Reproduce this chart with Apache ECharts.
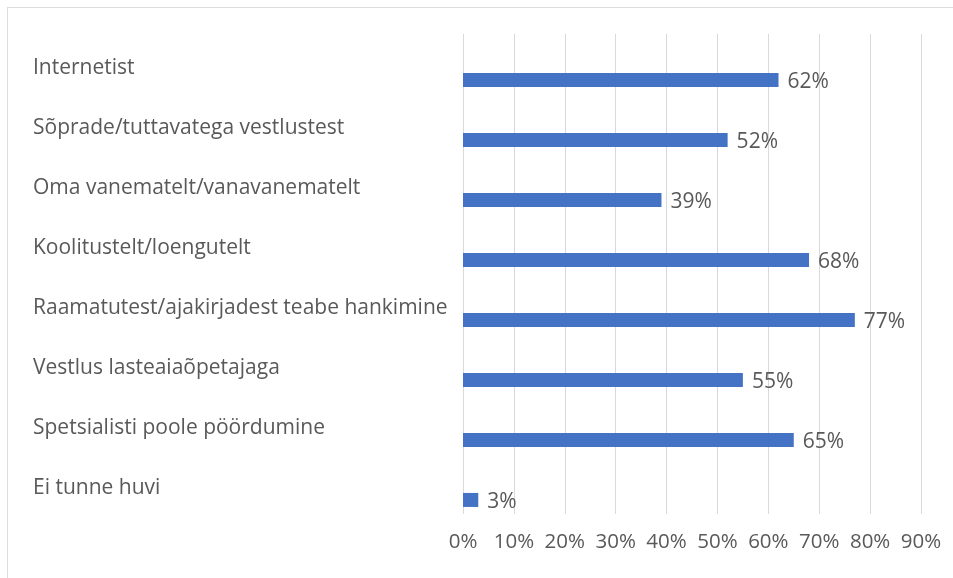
<!DOCTYPE html>
<html>
<head>
<meta charset="utf-8">
<script src="https://cdn.jsdelivr.net/npm/echarts@6/dist/echarts.min.js"></script>
<style>
html,body{margin:0;padding:0;background:#fff;}
#frame{position:absolute;left:7px;top:7px;width:960px;height:590px;border:1px solid #dcdcdc;box-sizing:border-box;}
#chart{position:absolute;left:0;top:0;width:953px;height:578px;}
</style>
</head>
<body>
<div id="frame"></div>
<div id="chart"></div>
<script>
const categories = [
  "Internetist",
  "Sõprade/tuttavatega vestlustest",
  "Oma vanematelt/vanavanematelt",
  "Koolitustelt/loengutelt",
  "Raamatutest/ajakirjadest teabe hankimine",
  "Vestlus lasteaiaõpetajaga",
  "Spetsialisti poole pöördumine",
  "Ei tunne huvi"
];
const values = [62, 52, 39, 68, 77, 55, 65, 3];
const xTicks = [0, 10, 20, 30, 40, 50, 60, 70, 80, 90];

const textColor = '#595959';
const fontFamily = '"Open Sans", "Noto Sans", sans-serif';
const chart = echarts.init(document.getElementById('chart'), null, {renderer: 'canvas'});
chart.setOption({
  animation: false,
  grid: {left: 463, right: 32, top: 34, bottom: 64, containLabel: false},
  xAxis: {
    type: 'value', min: xTicks[0], max: xTicks[xTicks.length - 1], interval: 10,
    axisLine: {show: false}, axisTick: {show: false},
    splitLine: {lineStyle: {color: '#d9d9d9', width: 1}},
    axisLabel: {formatter: '{value}%', color: textColor, fontSize: 20.5, fontFamily: fontFamily, margin: 18}
  },
  yAxis: {
    type: 'category', data: categories, inverse: true,
    axisLine: {show: false}, axisTick: {show: false},
    axisLabel: {align: 'left', verticalAlign: 'top', lineHeight: 8, margin: 430, color: textColor, fontSize: 21, fontFamily: fontFamily}
  },
  series: [
    {type: 'bar', data: categories.map(() => '-'), barWidth: 14, silent: true},
    {
      type: 'bar', data: values, barWidth: 14, barGap: '128%',
      itemStyle: {color: '#4472C4'},
      label: {show: true, position: 'right', distance: 9, formatter: '{c}%', color: textColor, fontSize: 21, fontFamily: fontFamily, offset: [0, 2]}
    }
  ]
});
</script>
</body>
</html>
